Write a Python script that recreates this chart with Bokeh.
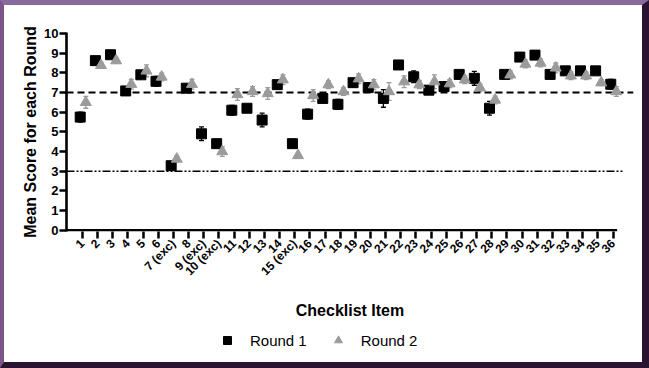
import math
from bokeh.plotting import figure
from bokeh.models import (Range1d, FixedTicker, ColumnDataSource, Whisker, TeeHead,
                          Legend, LegendItem)
from bokeh.layouts import column
from bokeh.embed import file_html
from bokeh.resources import INLINE

# ---- data ----
items = ["1", "2", "3", "4", "5", "6", "7 (exc)", "8", "9 (exc)", "10 (exc)",
         "11", "12", "13", "14", "15 (exc)", "16", "17", "18", "19", "20",
         "21", "22", "23", "24", "25", "26", "27", "28", "29", "30",
         "31", "32", "33", "34", "35", "36"]
round1_mean = [5.75, 8.62, 8.92, 7.08, 7.9, 7.57, 3.28, 7.22, 4.9, 4.4,
               6.1, 6.2, 5.6, 7.4, 4.4, 5.9, 6.7, 6.4, 7.5, 7.25,
               6.7, 8.4, 7.8, 7.12, 7.3, 7.92, 7.72, 6.2, 7.92, 8.8,
               8.9, 7.92, 8.1, 8.1, 8.1, 7.42]
round1_err = [0.25, 0.22, 0.15, 0.15, 0.15, 0.25, 0.12, 0.12, 0.35, 0.15,
              0.25, 0.12, 0.35, 0.2, 0.12, 0.25, 0.2, 0.25, 0.2, 0.2,
              0.45, 0.12, 0.3, 0.2, 0.15, 0.12, 0.35, 0.35, 0.2, 0.12,
              0.12, 0.2, 0.2, 0.12, 0.12, 0.25]
round2_mean = [6.5, 8.38, 8.62, 7.42, 8.1, 7.79, 3.62, 7.42, float("nan"), 4.0,
               6.9, 7.05, 6.95, 7.65, 3.8, 6.85, 7.4, 7.05, 7.7, 7.4,
               7.05, 7.55, 7.4, 7.55, 7.45, 7.65, 7.25, 6.62, 7.9, 8.45,
               8.5, 8.25, 7.85, 7.85, 7.5, 7.05]
round2_err = [0.3, 0.15, 0.12, 0.25, 0.3, 0.2, 0.15, 0.25, float("nan"), 0.25,
              0.3, 0.25, 0.3, 0.25, 0.12, 0.3, 0.2, 0.2, 0.25, 0.25,
              0.45, 0.3, 0.2, 0.35, 0.2, 0.2, 0.2, 0.2, 0.2, 0.2,
              0.2, 0.25, 0.2, 0.2, 0.15, 0.25]
good_threshold = 7
poor_threshold = 3

FONT = "Liberation Sans"
GREY = "#9b9b9b"

n = len(items)
pos = list(range(1, n + 1))
x1 = [p_ - 0.15 for p_ in pos]
x2 = [p_ + 0.22 for p_ in pos]

src1 = ColumnDataSource(dict(x=x1, y=round1_mean,
                             lo=[m - e for m, e in zip(round1_mean, round1_err)],
                             hi=[m + e for m, e in zip(round1_mean, round1_err)]))
src2 = ColumnDataSource(dict(x=x2, y=round2_mean,
                             lo=[m - e for m, e in zip(round2_mean, round2_err)],
                             hi=[m + e for m, e in zip(round2_mean, round2_err)]))

x_start, x_end = -0.055, 37.35
p = figure(width=638, height=318, output_backend="svg", toolbar_location=None,
           x_range=Range1d(x_start, x_end), y_range=Range1d(-0.065, 10.05),
           min_border_left=62, min_border_right=9, min_border_top=27,
           min_border_bottom=92)
p.grid.visible = False
p.outline_line_color = None

# reference lines
p.line([x_start, x_end], [good_threshold, good_threshold], line_color="black",
       line_width=1.8, line_dash="7 4")
p.line([x_start, 36.66], [poor_threshold, poor_threshold], line_color="black",
       line_width=1.6, line_dash="8 2 2 2 2 2")

# x axis line drawn to the last tick only
p.line([x_start, 36.27], [0, 0], line_color="black", line_width=2.6)

for src, col in ((src1, "black"), (src2, GREY)):
    w = Whisker(source=src, base="x", lower="lo", upper="hi", dimension="height",
                line_color=col, line_width=1.3, level="underlay",
                upper_head=TeeHead(size=5, line_color=col, line_width=1.3),
                lower_head=TeeHead(size=5, line_color=col, line_width=1.3))
    p.add_layout(w)

r1 = p.scatter("x", "y", source=src1, marker="square", size=10,
               fill_color="black", line_color="black")
r2 = p.scatter("x", "y", source=src2, marker="triangle", size=11,
               fill_color=GREY, line_color=GREY)

# axes
p.xaxis.ticker = FixedTicker(ticks=pos)
p.xaxis.major_label_overrides = {i + 1: lab for i, lab in enumerate(items)}
p.xaxis.major_label_orientation = math.pi / 4
p.xaxis.axis_line_color = None
p.xaxis.minor_tick_line_color = None
p.xaxis.major_tick_line_width = 2.5
p.xaxis.major_tick_out = 7
p.xaxis.major_tick_in = 0
p.xaxis.major_label_text_font = FONT
p.xaxis.major_label_text_font_style = "bold"
p.xaxis.major_label_text_font_size = "12px"
p.xaxis.major_label_text_color = "black"
p.xaxis.major_label_standoff = 3
p.xaxis.axis_label = "Checklist Item"
p.xaxis.axis_label_text_font = FONT
p.xaxis.axis_label_text_font_style = "bold"
p.xaxis.axis_label_text_font_size = "16px"
p.xaxis.axis_label_text_color = "black"
p.xaxis.axis_label_standoff = 16

p.yaxis.ticker = FixedTicker(ticks=list(range(0, 11)))
p.yaxis.axis_line_width = 2.6
p.yaxis.minor_tick_line_color = None
p.yaxis.major_tick_line_width = 2.5
p.yaxis.major_tick_out = 7
p.yaxis.major_tick_in = 0
p.yaxis.major_label_text_font = FONT
p.yaxis.major_label_text_font_style = "bold"
p.yaxis.major_label_text_font_size = "13px"
p.yaxis.major_label_text_color = "black"
p.yaxis.major_label_standoff = 1
p.yaxis.axis_label = "Mean Score for each Round"
p.yaxis.axis_label_text_font = FONT
p.yaxis.axis_label_text_font_style = "bold"
p.yaxis.axis_label_text_font_size = "16px"
p.yaxis.axis_label_text_color = "black"
p.yaxis.axis_label_standoff = 2

# legend strip below the chart (swatch renderers sit outside its visible range)
pl = figure(width=638, height=39, output_backend="svg", toolbar_location=None,
            x_range=Range1d(100, 101), y_range=Range1d(100, 101),
            x_axis_type=None, y_axis_type=None, min_border=0)
pl.grid.visible = False
pl.outline_line_color = None
g1 = pl.scatter(x=x1[:1], y=round1_mean[:1], marker="square", size=10,
                fill_color="black", line_color="black")
g2 = pl.scatter(x=x2[:1], y=round2_mean[:1], marker="triangle", size=11,
                fill_color=GREY, line_color=GREY)
legend = Legend(items=[LegendItem(label="Round 1", renderers=[g1]),
                       LegendItem(label="Round 2", renderers=[g2])],
                orientation="horizontal", location=(151, 12),
                border_line_color=None, background_fill_alpha=0,
                label_text_font=FONT, label_text_font_size="15px",
                label_text_color="black",
                label_standoff=13, spacing=21, glyph_width=20, glyph_height=20,
                padding=5, margin=0)
pl.add_layout(legend, "center")

layout = column(p, pl, spacing=0,
                styles={"border-left": "4px solid #7b5589",
                        "border-top": "5px solid #8a6a9c",
                        "border-right": "7px solid #2a1432",
                        "border-bottom": "6px solid #2a1432"})

open("out.html", "w").write(file_html(layout, INLINE))
